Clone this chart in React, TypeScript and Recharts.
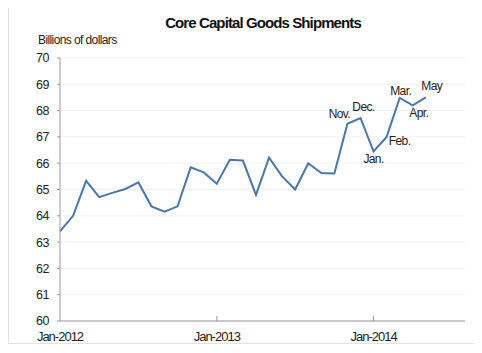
import { LineChart, Line, XAxis, YAxis, CartesianGrid, LabelList } from 'recharts';

const months = [
  'Jan-2012', 'Feb-2012', 'Mar-2012', 'Apr-2012', 'May-2012', 'Jun-2012',
  'Jul-2012', 'Aug-2012', 'Sep-2012', 'Oct-2012', 'Nov-2012', 'Dec-2012',
  'Jan-2013', 'Feb-2013', 'Mar-2013', 'Apr-2013', 'May-2013', 'Jun-2013',
  'Jul-2013', 'Aug-2013', 'Sep-2013', 'Oct-2013', 'Nov-2013', 'Dec-2013',
  'Jan-2014', 'Feb-2014', 'Mar-2014', 'Apr-2014', 'May-2014',
];

const shipments = [
  63.41, 64.0, 65.33, 64.71, 64.87, 65.02, 65.27, 64.36, 64.16, 64.36, 65.84, 65.65,
  65.22, 66.13, 66.1, 64.8, 66.21, 65.5, 65.0, 66.0, 65.63, 65.61, 67.5, 67.72,
  66.45, 67.0, 68.48, 68.2, 68.5,
];

const pointLabels = [
  '', '', '', '', '', '', '', '', '', '', '', '',
  '', '', '', '', '', '', '', '', '', '', 'Nov.', 'Dec.',
  'Jan.', 'Feb.', 'Mar.', 'Apr.', 'May',
];

const yTicks = [60, 61, 62, 63, 64, 65, 66, 67, 68, 69, 70];
const xTickLabels = ['Jan-2012', 'Jan-2013', 'Jan-2014'];

// where each month label sits relative to its point (dx, dy)
const labelOffsets: Record<string, [number, number]> = {
  'Nov.': [-8, -10],
  'Dec.': [3, -11],
  'Jan.': [0, 8],
  'Feb.': [13, 4],
  'Mar.': [1, -7],
  'Apr.': [6, 8],
  May: [6, -11],
};

const data = shipments.map((v, i) => ({ idx: i, value: v, tag: pointLabels[i] }));
const xTicks = xTickLabels.map(l => months.indexOf(l));

const FONT = 'Liberation Sans, Arial, sans-serif';
const LINE = '#4677ae';

const XTick = (props: any) => {
  const { x, y, payload } = props;
  return (
    <g>
      {payload.value !== 0 && <line x1={x} x2={x} y1={y - 5} y2={y} stroke="#999" />}
      <text x={x} y={y + 20} textAnchor="middle" fontSize={13} fill="#222" style={{ letterSpacing: '-1px' }}>
        {months[payload.value]}
      </text>
    </g>
  );
};

const PointLabel = (props: any) => {
  const { x, y, value } = props;
  if (!value) return null;
  const [dx, dy] = labelOffsets[value] ?? [0, -10];
  return (
    <text
      x={x + dx}
      y={y + dy}
      textAnchor="middle"
      dominantBaseline="central"
      fontSize={12}
      fill="#222"
      style={{ letterSpacing: '-0.6px' }}
    >
      {value}
    </text>
  );
};

export default function App() {
  return (
    <div
      style={{
        position: 'relative',
        width: 466,
        height: 336,
        marginTop: -2,
        border: '1px solid #e2e2e2',
        boxShadow: '0 2px 3px rgba(0,0,0,0.18)',
        background: '#fff',
        fontFamily: FONT,
      }}
    >
      <div
        style={{
          position: 'absolute',
          left: 0,
          width: 508,
          top: 7,
          textAlign: 'center',
          fontSize: 15,
          fontWeight: 'bold',
          letterSpacing: '-0.9px',
          color: '#111',
        }}
      >
        Core Capital Goods Shipments
      </div>
      <div
        style={{
          position: 'absolute',
          left: 29,
          top: 26,
          fontSize: 12,
          letterSpacing: '-0.6px',
          color: '#222',
        }}
      >
        Billions of dollars
      </div>
      <LineChart
        width={466}
        height={336}
        data={data}
        margin={{ top: 51, right: 10, bottom: 2, left: 0 }}
        style={{ fontFamily: FONT }}
      >
        <CartesianGrid vertical={false} stroke="#f1f1f1" />
        <XAxis
          dataKey="idx"
          type="number"
          domain={[0, 31]}
          ticks={xTicks}
          tick={<XTick />}
          tickLine={false}
          tickSize={0}
          tickMargin={0}
          axisLine={{ stroke: '#999' }}
          height={20}
          interval={0}
        />
        <YAxis
          domain={[60, 70]}
          ticks={yTicks}
          width={51}
          tickSize={3}
          tickMargin={8}
          tickLine={{ stroke: '#999' }}
          axisLine={{ stroke: '#999' }}
          tick={{ fontSize: 12.5, fill: '#222', letterSpacing: '-0.5px' } as any}
          interval={0}
        />
        <Line
          dataKey="value"
          stroke={LINE}
          strokeWidth={2}
          dot={false}
          isAnimationActive={false}
        >
          <LabelList dataKey="tag" content={<PointLabel />} />
        </Line>
      </LineChart>
    </div>
  );
}
